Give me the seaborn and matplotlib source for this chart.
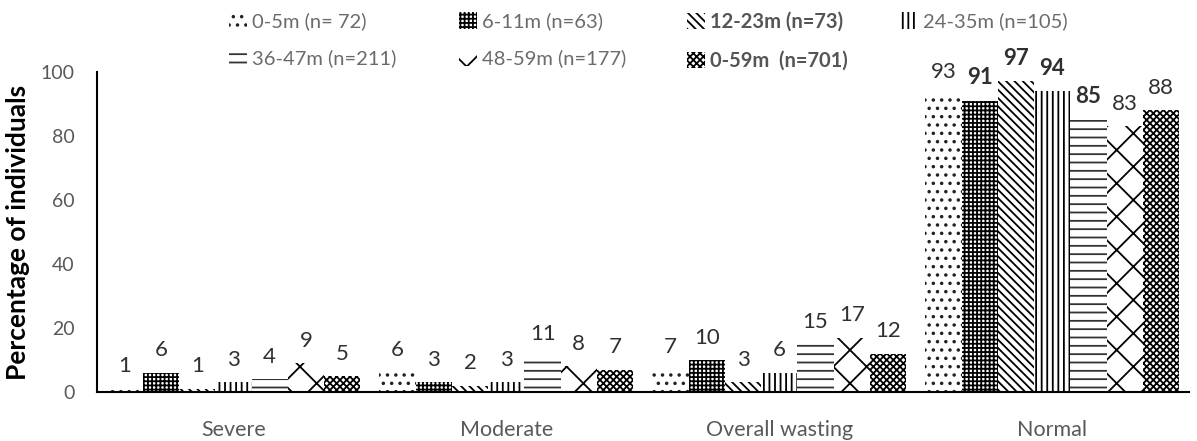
import matplotlib
matplotlib.use("Agg")
import matplotlib.pyplot as plt
import seaborn as sns
import pandas as pd
from matplotlib.patches import Patch

categories = ["Severe", "Moderate", "Overall wasting", "Normal"]
age_groups = ["0-5m (n= 72)", "6-11m (n=63)", "12-23m (n=73)", "24-35m (n=105)",
              "36-47m (n=211)", "48-59m (n=177)", "0-59m  (n=701)"]
v_0_5 = [1, 6, 7, 93]
v_6_11 = [6, 3, 10, 91]
v_12_23 = [1, 2, 3, 97]
v_24_35 = [3, 3, 6, 94]
v_36_47 = [4, 11, 15, 85]
v_48_59 = [9, 8, 17, 83]
v_0_59 = [5, 7, 12, 88]
series = [v_0_5, v_6_11, v_12_23, v_24_35, v_36_47, v_48_59, v_0_59]
y_ticks = [0, 20, 40, 60, 80, 100]

rows = []
for g, vals in zip(age_groups, series):
    for c, v in zip(categories, vals):
        rows.append({"category": c, "group": g, "value": v})
df = pd.DataFrame(rows)

sns.set_style("white")
plt.rcParams["font.family"] = ["Lato", "DejaVu Sans"]
plt.rcParams["hatch.linewidth"] = 1.3

fig = plt.figure(figsize=(11.97, 4.41), dpi=100)
ax = fig.add_axes([0.081, 0.111, 0.912, 0.726])

sns.barplot(data=df, x="category", y="value", hue="group", order=categories,
            hue_order=age_groups, width=0.93, gap=0, ax=ax, legend=False,
            palette=["white"] * 7, saturation=1)

hatches = ["..", "++++", "\\\\\\\\", "|||", "--", "x", "xxxxx"]
edgecols = ["#222222", "black", "black", "black", "#333333", "black", "black"]
bold_labels = {(1, 3), (2, 3), (3, 3), (4, 3)}
for i, cont in enumerate(ax.containers):
    for p in cont:
        p.set_facecolor("white")
        p.set_hatch(hatches[i])
        p.set_edgecolor(edgecols[i])
        p.set_linewidth(0)
    labels = ax.bar_label(cont, labels=[str(v) for v in series[i]], padding=9,
                          fontsize=16, color="#303030")
    for j, t in enumerate(labels):
        if (i, j) in bold_labels:
            t.set_fontweight("bold")

ax.set_ylim(0, 100)
ax.set_xlim(-0.5, 3.5)
ax.set_yticks(y_ticks)
ax.tick_params(axis="y", labelsize=14, labelcolor="#595959", length=0, pad=16)
ax.tick_params(axis="x", labelsize=15.5, labelcolor="#595959", length=0, pad=20)
ax.set_xlabel("")
ax.set_ylabel("Percentage of individuals", fontsize=19, fontweight="bold",
              color="black", labelpad=8)
for s in ["top", "right"]:
    ax.spines[s].set_visible(False)
for s in ["left", "bottom"]:
    ax.spines[s].set_color("black")
    ax.spines[s].set_linewidth(1.5)

handles = [Patch(facecolor="white", edgecolor=edgecols[i], hatch=hatches[i], linewidth=0)
           for i in range(7)]
columns = [[0, 4], [1, 5], [2, 6], [3]]
col_x = [222, 452, 680, 893]
for cx, idxs in zip(col_x, columns):
    leg = fig.legend([handles[k] for k in idxs], [age_groups[k] for k in idxs],
                     loc="upper left", bbox_to_anchor=(cx / 1197 - 0.006, 1.005),
                     frameon=False, fontsize=14.5, handlelength=0.9, handleheight=0.9,
                     handletextpad=0.25, labelspacing=0.95, borderpad=0.2)
    for k, t in zip(idxs, leg.get_texts()):
        t.set_color("#6b6b6b")
        if k in (2, 6):
            t.set_fontweight("bold")
            t.set_color("#555555")

fig.savefig("out.png", dpi=100)
